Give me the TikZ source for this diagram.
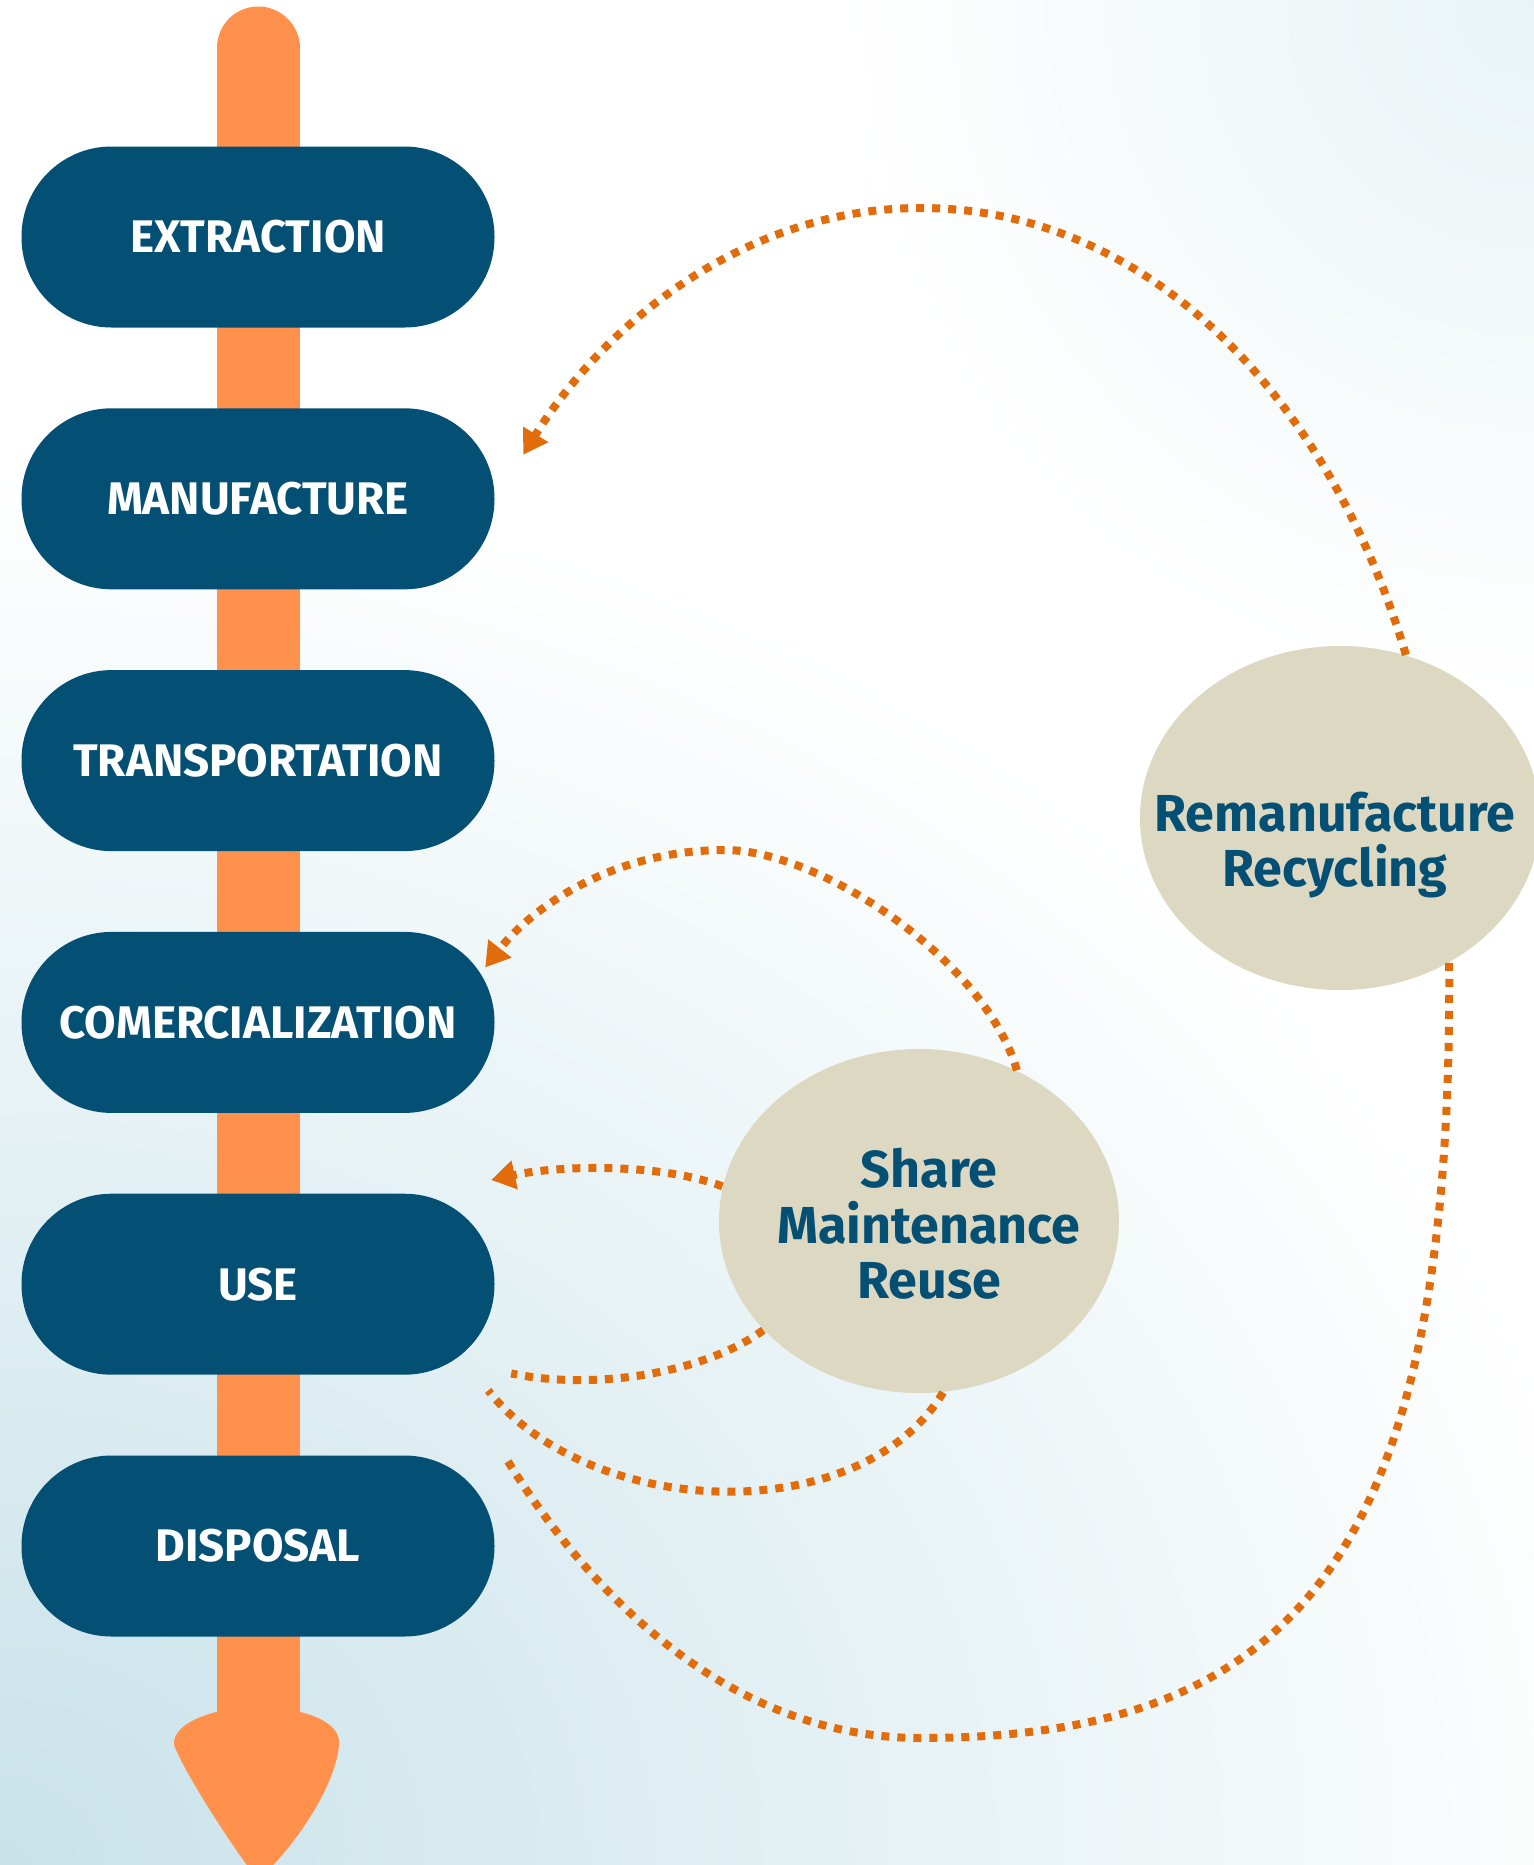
\documentclass[tikz,border=0pt]{standalone}
\usepackage{fontspec}
\setmainfont{Fira Sans}
\usetikzlibrary{arrows.meta,shapes.geometric}
\definecolor{stageblue}{HTML}{045075}
\definecolor{barorange}{HTML}{FF914D}
\definecolor{loopcolor}{HTML}{E36C0A}
\definecolor{ovalfill}{HTML}{DDD8C1}
\definecolor{bgblue}{HTML}{C8E2E9}
\colorlet{bgtint}{bgblue!40!white}

\begin{document}
\begin{tikzpicture}[x=0.1mm, y=-0.1mm,
  stagebox/.style={fill=stageblue, rounded corners=9mm, minimum width=47.3mm, minimum height=18.1mm, text=white, font=\fontsize{13}{15}\selectfont\bfseries},
  ovalnode/.style={ellipse, fill=ovalfill, minimum width=40mm, minimum height=34.4mm, inner sep=0pt},
  ovaltext/.style={text=stageblue, align=center, font=\fontsize{14.8}{15.8}\selectfont\bfseries},
  dotline/.style={loopcolor, line width=0.8mm, dash pattern=on 0.8mm off 0.8mm},
  dotarrow/.style={dotline, -{Triangle[length=2.4mm, width=2.8mm]}}]
\useasboundingbox (0,0) rectangle (1534,1865);
\clip (0,0) rectangle (1534,1865);
\fill[white] (0,0) rectangle (1534,1865);
\shade[inner color=bgblue, outer color=white] (0,1865) ellipse (165mm and 140mm);
\shade[inner color=bgtint, outer color=white] (1534,0) circle (70mm);

\draw[barorange, line width=8.3mm, line cap=round] (258,48) -- (258,1750);
\fill[barorange] (174,1745) .. controls (172,1722) and (215,1708) .. (258,1706) .. controls (300,1708) and (342,1720) .. (339,1745) .. controls (335,1790) and (290,1850) .. (266,1872) -- (252,1872) .. controls (228,1840) and (186,1775) .. (174,1745) -- cycle;

\foreach \name/\txt [count=\i from 0] in {extraction/EXTRACTION, manufacture/MANUFACTURE, transportation/TRANSPORTATION, comercialization/COMERCIALIZATION, use/USE, disposal/DISPOSAL}
\node[stagebox] (\name) at (258,{237+261.8*\i}) {\txt};

\node[ovalnode] (recycle) at (1340,818) {};
\node[ovaltext] (recycletext) at (1335,845) {Remanufacture\\Recycling};
\node[ovalnode] (share) at (919,1221) {};
\node[ovaltext] (sharetext) at (929,1224) {Share\\Maintenance\\Reuse};

\draw[dotarrow] (recycle.68) .. controls (1330,400) and (1150,208) .. (921,208) .. controls (740,208) and (600,330) .. ([shift={(28,-44)}]manufacture.east);
\draw[dotline] (recycle.-53) .. controls (1453,1550) and (1300,1738) .. (921,1738) .. controls (720,1738) and (580,1580) .. ([shift={(10,2)}]disposal.north east);
\draw[dotarrow] (share.57) .. controls (985,960) and (820,850) .. (725,850) .. controls (610,850) and (530,910) .. ([shift={(-10,-55)}]comercialization.east);
\draw[dotarrow] (share.170) .. controls (660,1163) and (560,1165) .. ([shift={(-4,-13)}]use.north east);
\draw[dotline] (share.215) .. controls (710,1370) and (600,1392) .. ([shift={(16,-2)}]use.south east);
\draw[dotline] (share.-82) .. controls (860,1530) and (590,1520) .. ([shift={(-7,15)}]use.south east);
\end{tikzpicture}
\end{document}
